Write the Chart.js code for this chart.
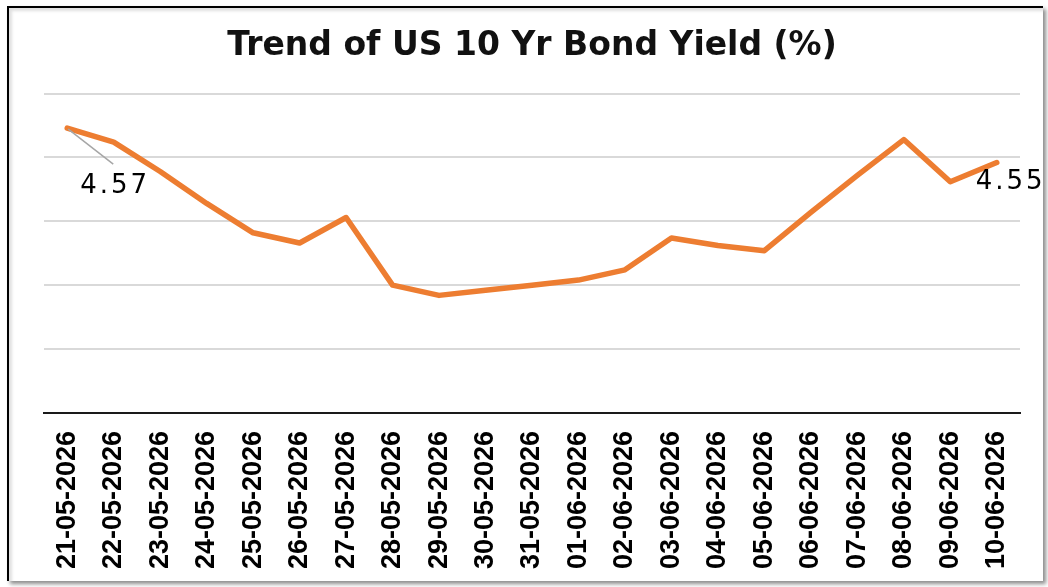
<!DOCTYPE html>
<html>
<head>
<meta charset="utf-8">
<title>Trend of US 10 Yr Bond Yield (%)</title>
<script src="https://cdn.jsdelivr.net/npm/chart.js@4.4.1/dist/chart.umd.min.js"></script>
<style>
  body { margin: 0; background: #fff; }
  #frame {
    position: absolute;
    left: 7px;
    top: 6px;
    width: 1034px;
    height: 573px;
    border-left: 2px solid #000;
    border-top: 2px solid #000;
    box-shadow: 3px 3px 4px rgba(0, 0, 0, 0.45), inset 3px 3px 3px rgba(0, 0, 0, 0.12);
  }
  #chart { position: absolute; left: 0; top: 0; }
</style>
</head>
<body>
<div id="frame"></div>
<canvas id="chart" width="1048" height="587"></canvas>
<script>
// Dates on the x axis
const dates = [
  "21-05-2026", "22-05-2026", "23-05-2026", "24-05-2026", "25-05-2026",
  "26-05-2026", "27-05-2026", "28-05-2026", "29-05-2026", "30-05-2026",
  "31-05-2026", "01-06-2026", "02-06-2026", "03-06-2026", "04-06-2026",
  "05-06-2026", "06-06-2026", "07-06-2026", "08-06-2026", "09-06-2026",
  "10-06-2026",
];

// US 10 Yr yield (%)
const yields = [
  4.573, 4.562, 4.539, 4.514, 4.491,
  4.483, 4.503, 4.450, 4.442, 4.446,
  4.450, 4.454, 4.462, 4.487, 4.481,
  4.477, 4.507, 4.536, 4.564, 4.531,
  4.546,
];

// y axis range (labels hidden in the original)
const yMin = 4.35;
const yMax = 4.6;
const yStep = 0.05;

// Only the first and last point carry a value label
const labelledPoints = [0, dates.length - 1];

// Draws the two value labels (and the leader line on the first one)
const valueLabels = {
  id: "valueLabels",
  afterDatasetsDraw(chart) {
    const ctx = chart.ctx;
    const meta = chart.getDatasetMeta(0);
    ctx.save();
    ctx.font = "26px 'DejaVu Sans'";
    ctx.fillStyle = "#000";
    ctx.letterSpacing = "3px";
    ctx.textBaseline = "alphabetic";
    labelledPoints.forEach((i) => {
      const pt = meta.data[i];
      const text = yields[i].toFixed(2);
      if (i === 0) {
        ctx.strokeStyle = "#a6a6a6";
        ctx.lineWidth = 1.5;
        ctx.beginPath();
        ctx.moveTo(pt.x + 1, pt.y + 1);
        ctx.lineTo(pt.x + 46, pt.y + 36);
        ctx.stroke();
        ctx.fillText(text, pt.x + 13, pt.y + 65);
      } else {
        ctx.fillText(text, pt.x - 21, pt.y + 26);
      }
    });
    ctx.restore();
  },
};

const ctx = document.getElementById("chart").getContext("2d");
new Chart(ctx, {
  type: "line",
  data: {
    labels: dates,
    datasets: [
      {
        label: "US 10 Yr Bond Yield",
        data: yields,
        borderColor: "#ed7d31",
        borderWidth: 5.5,
        borderJoinStyle: "round",
        borderCapStyle: "round",
        pointRadius: 0,
        tension: 0,
        fill: false,
      },
    ],
  },
  options: {
    responsive: false,
    animation: false,
    devicePixelRatio: 1,
    layout: {
      padding: { left: 44, right: 28, top: 0, bottom: 0 },
    },
    plugins: {
      legend: { display: false },
      tooltip: { enabled: false },
      title: {
        display: true,
        text: "Trend of US 10 Yr Bond Yield (%)",
        color: "#111",
        font: { family: "'DejaVu Sans'", size: 33, weight: "bold" },
        padding: { top: 27, bottom: 27 },
      },
    },
    scales: {
      x: {
        offset: true,
        grid: { display: false, drawTicks: false },
        border: { display: true, color: "#1a1a1a", width: 2 },
        ticks: {
          color: "#000",
          minRotation: 90,
          maxRotation: 90,
          autoSkip: false,
          padding: 18,
          font: { family: "'Liberation Sans'", size: 27, weight: "bold" },
        },
      },
      y: {
        min: yMin,
        max: yMax,
        grid: { color: "#d9d9d9", lineWidth: 2, drawTicks: false },
        border: { display: false },
        ticks: { display: false, stepSize: yStep },
      },
    },
  },
  plugins: [valueLabels],
});
</script>
</body>
</html>
